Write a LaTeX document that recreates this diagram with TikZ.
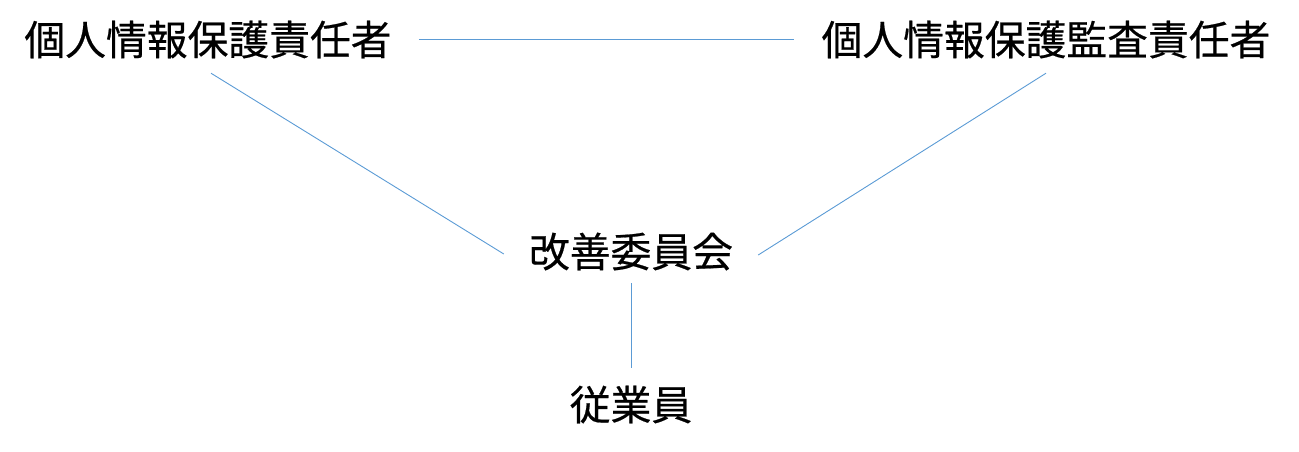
\documentclass[tikz,border=0pt]{standalone}
\usepackage{fontspec}
\newfontfamily\jp[FakeBold=0.5]{Noto Sans CJK JP}
\definecolor{linkblue}{HTML}{5B9BD5}
\tikzset{
  lbl/.style={font=\jp\fontsize{40.8}{41}\selectfont, inner sep=0pt, text height=35pt, text depth=5pt, anchor=center},
  link/.style={draw=linkblue, line width=0.9pt}
}
\begin{document}
\begin{tikzpicture}[x=1pt,y=-1pt]
\useasboundingbox (0,0) rectangle (1299,451);
\node[lbl] (L) at (208,40) {個人情報保護責任者};
\node[lbl] (R) at (1046,40) {個人情報保護監査責任者};
\node[lbl] (M) at (631,252) {改善委員会};
\node[lbl] (E) at (631,405) {従業員};
\draw[link] ([xshift=27pt,yshift=1pt]L.east) -- ([xshift=-27pt,yshift=1pt]R.west);
\draw[link] ([xshift=3pt,yshift=-13pt]L.south) -- ([xshift=-25pt,yshift=-2pt]M.west);
\draw[link] ([yshift=-13pt]R.south) -- ([xshift=25pt,yshift=-3pt]M.east);
\draw[link] ([yshift=-11pt]M.south) -- ([yshift=17pt]E.north);
\end{tikzpicture}
\end{document}
